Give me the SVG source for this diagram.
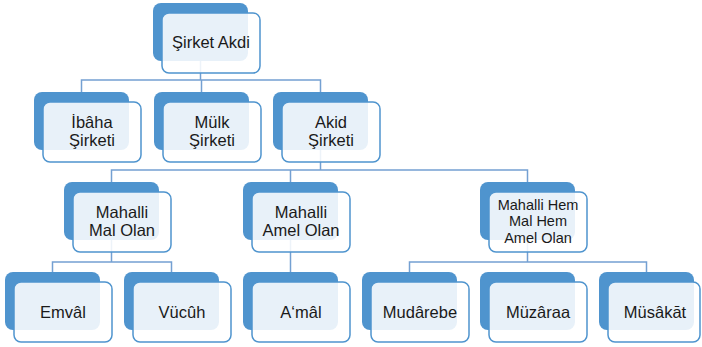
<svg xmlns="http://www.w3.org/2000/svg" width="702" height="347" viewBox="0 0 702 347">
<style>
.bk{fill:#4F94CE;}
.fr{fill:#FFFFFF;fill-opacity:0.87;stroke:#4F94CE;stroke-width:1.5;}
.t{font-family:"Liberation Sans",Arial,sans-serif;font-size:16.5px;fill:#1A1A1A;text-anchor:middle;}
.t3{font-size:14.5px;}
.cn{fill:none;stroke:#74A0D2;stroke-width:1.5;}
</style>
<rect width="702" height="347" fill="#FFFFFF"/>
<g id="connectors" class="cn">
<path d="M200.5 61 V80 M81.5 92 V80 H320.5 V92 M201.5 80 V92"/>
<path d="M320.5 150 V170 M111.5 182 V170 H527.5 V182 M290.5 170 V182"/>
<path d="M111.5 240 V262 M52.5 272 V262 H171.5 V272"/>
<path d="M290.5 240 V272"/>
<path d="M527.5 240 V262 M409.5 272 V262 H646.5 V272"/>
</g>
<g id="n0"><rect class="bk" x="153" y="3" width="95" height="58" rx="8"/><rect class="fr" x="162" y="13" width="98" height="60" rx="7"/><text class="t" x="211" y="48">Şirket Akdi</text></g>
<g id="n1"><rect class="bk" x="34" y="92" width="95" height="58" rx="8"/><rect class="fr" x="43" y="102" width="98" height="60" rx="7"/><text class="t" x="92" y="128">İbâha</text><text class="t" x="92" y="146">Şirketi</text></g>
<g id="n2"><rect class="bk" x="154" y="92" width="95" height="58" rx="8"/><rect class="fr" x="163" y="102" width="98" height="60" rx="7"/><text class="t" x="212" y="128">Mülk</text><text class="t" x="212" y="146">Şirketi</text></g>
<g id="n3"><rect class="bk" x="273" y="92" width="95" height="58" rx="8"/><rect class="fr" x="282" y="102" width="98" height="60" rx="7"/><text class="t" x="331" y="128">Akid</text><text class="t" x="331" y="146">Şirketi</text></g>
<g id="n4"><rect class="bk" x="64" y="182" width="95" height="58" rx="8"/><rect class="fr" x="73" y="192" width="98" height="60" rx="7"/><text class="t" x="122" y="218">Mahalli</text><text class="t" x="122" y="236">Mal Olan</text></g>
<g id="n5"><rect class="bk" x="243" y="182" width="95" height="58" rx="8"/><rect class="fr" x="252" y="192" width="98" height="60" rx="7"/><text class="t" x="301" y="218">Mahalli</text><text class="t" x="301" y="236">Amel Olan</text></g>
<g id="n6"><rect class="bk" x="480" y="182" width="95" height="58" rx="8"/><rect class="fr" x="489" y="192" width="98" height="60" rx="7"/><text class="t t3" x="538" y="209.5">Mahalli Hem</text><text class="t t3" x="538" y="226">Mal Hem</text><text class="t t3" x="538" y="242.5">Amel Olan</text></g>
<g id="n7"><rect class="bk" x="5" y="272" width="95" height="58" rx="8"/><rect class="fr" x="14" y="282" width="98" height="60" rx="7"/><text class="t" x="63" y="318">Emvâl</text></g>
<g id="n8"><rect class="bk" x="124" y="272" width="95" height="58" rx="8"/><rect class="fr" x="133" y="282" width="98" height="60" rx="7"/><text class="t" x="182" y="318">Vücûh</text></g>
<g id="n9"><rect class="bk" x="243" y="272" width="95" height="58" rx="8"/><rect class="fr" x="252" y="282" width="98" height="60" rx="7"/><text class="t" x="301" y="318">A‘mâl</text></g>
<g id="n10"><rect class="bk" x="362" y="272" width="95" height="58" rx="8"/><rect class="fr" x="371" y="282" width="98" height="60" rx="7"/><text class="t" x="420" y="318">Mudârebe</text></g>
<g id="n11"><rect class="bk" x="480" y="272" width="95" height="58" rx="8"/><rect class="fr" x="489" y="282" width="98" height="60" rx="7"/><text class="t" x="538" y="318">Müzâraa</text></g>
<g id="n12"><rect class="bk" x="599" y="272" width="95" height="58" rx="8"/><rect class="fr" x="608" y="282" width="92" height="60" rx="7"/><text class="t" x="655" y="318">Müsâkāt</text></g>
</svg>
